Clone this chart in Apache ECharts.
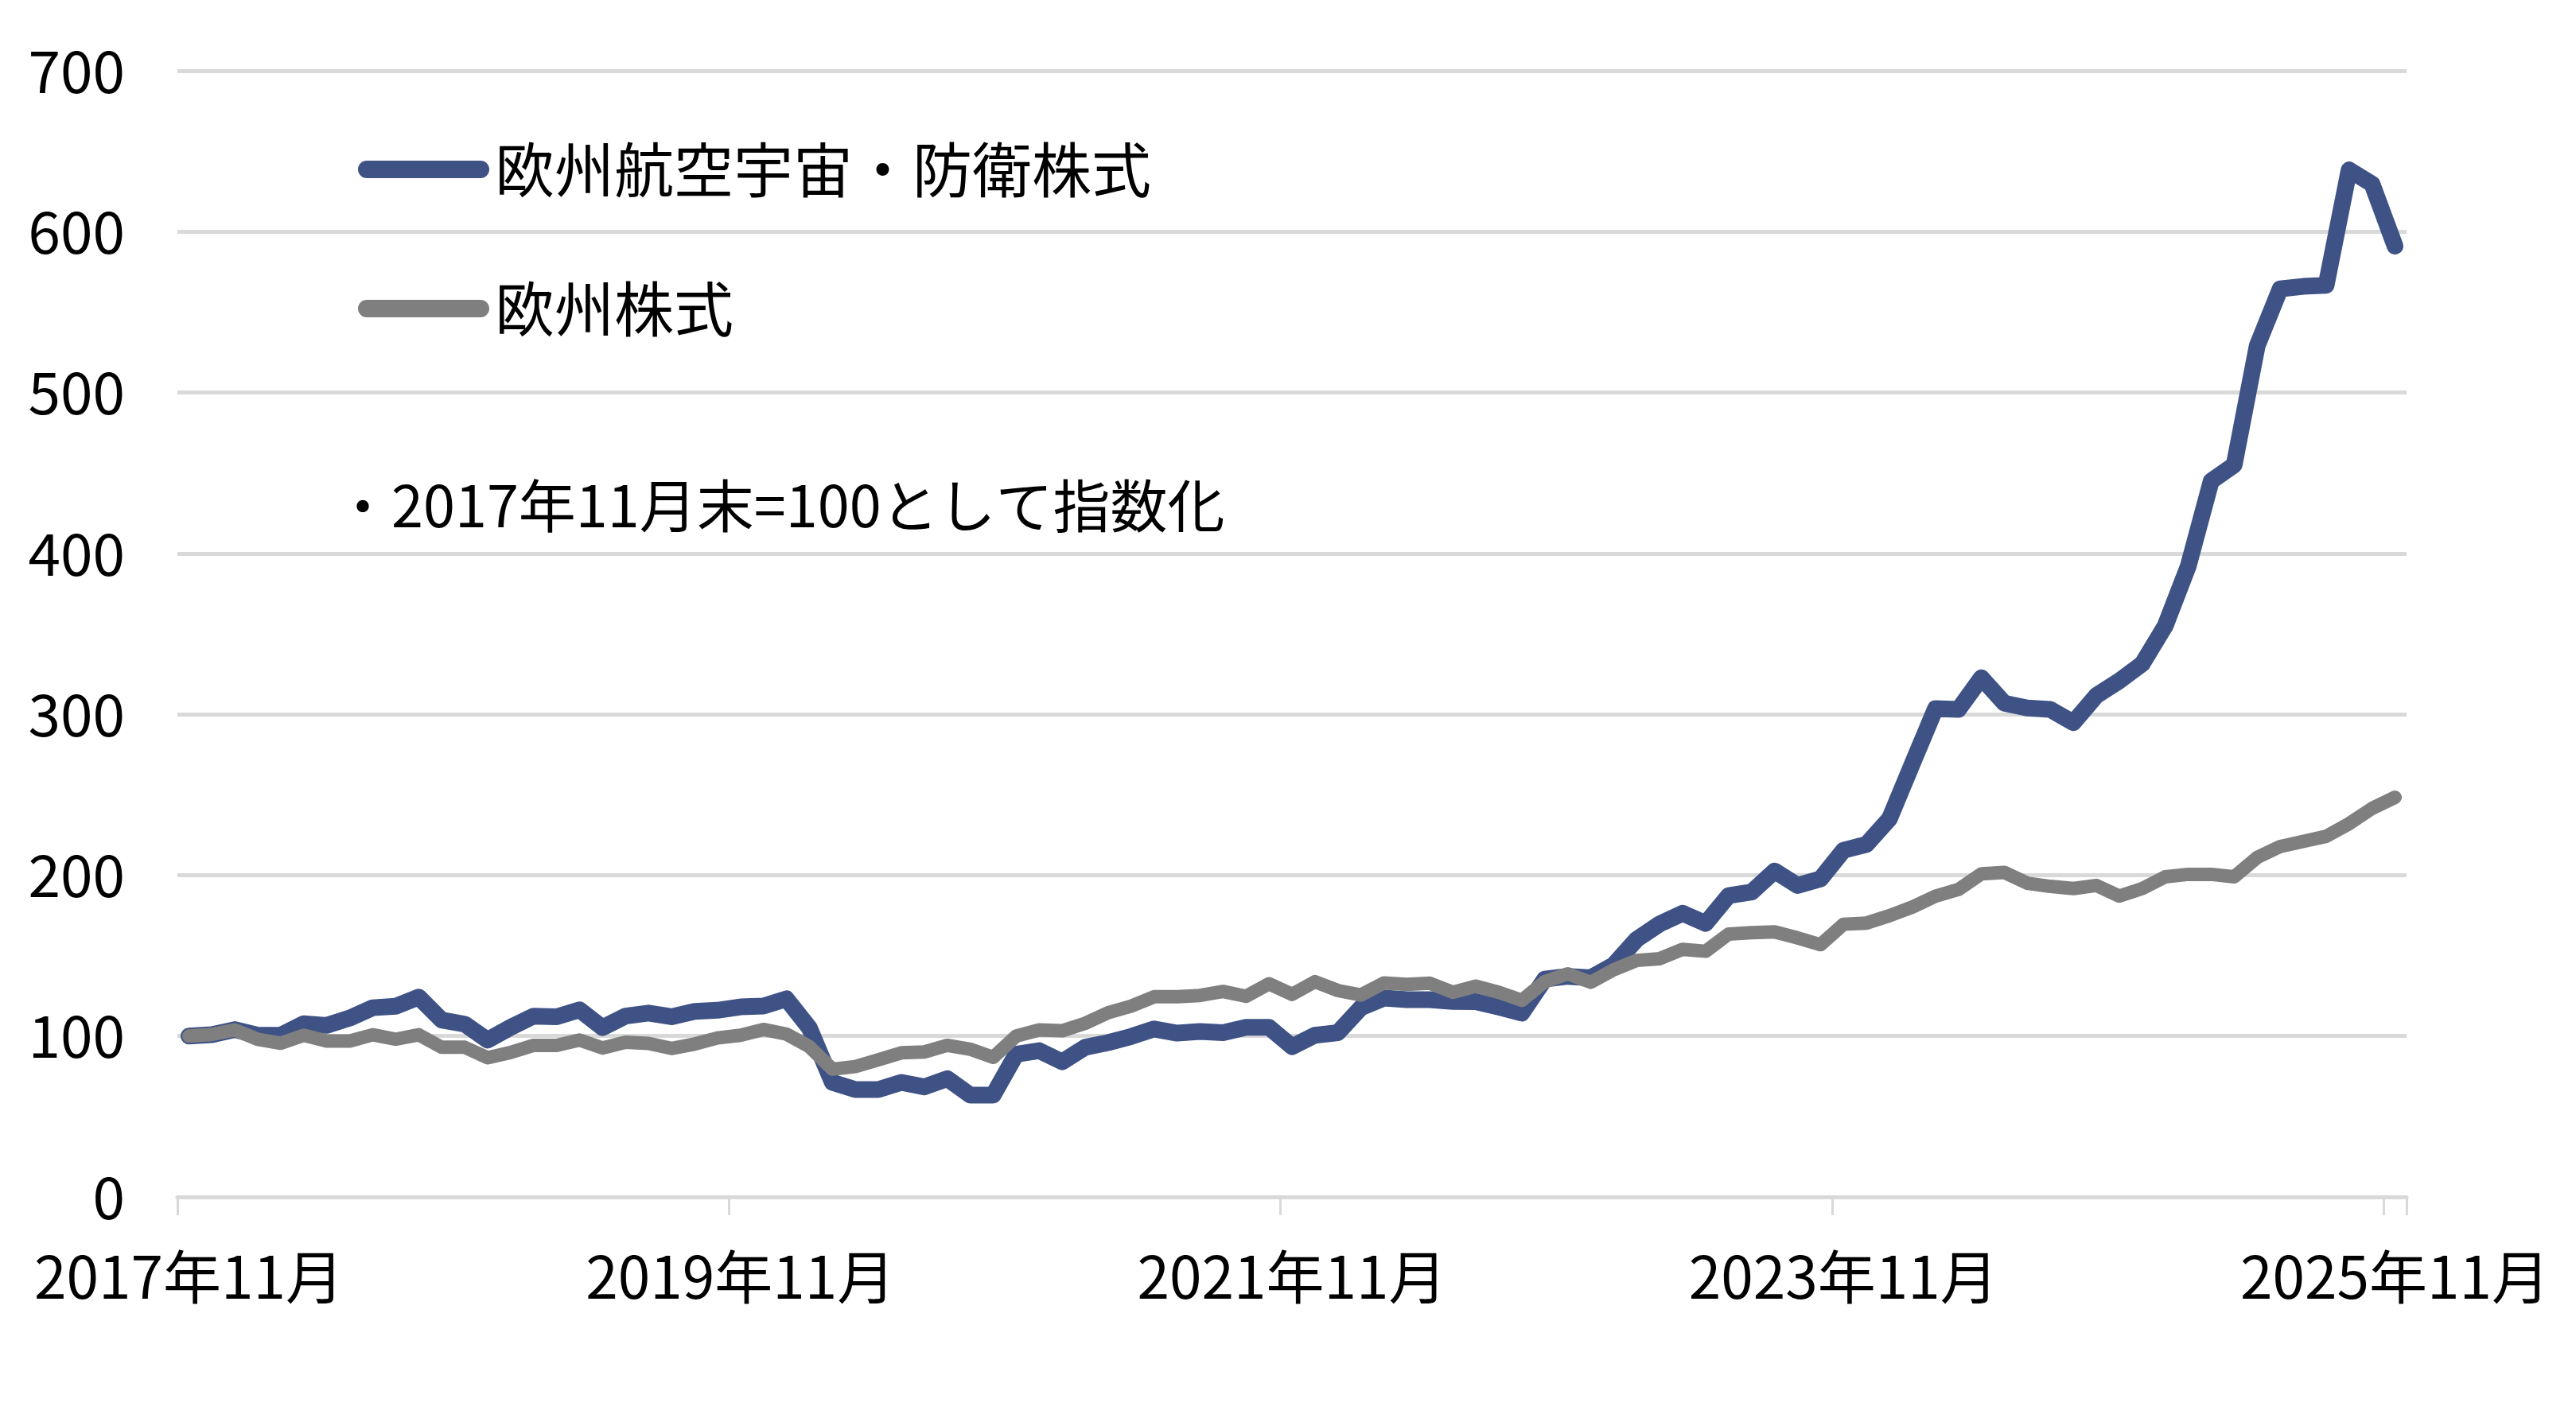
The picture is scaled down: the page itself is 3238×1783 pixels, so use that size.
<!DOCTYPE html>
<html>
<head>
<meta charset="utf-8">
<script src="https://cdn.jsdelivr.net/npm/echarts@6/dist/echarts.min.js"></script>
<style>
html,body{margin:0;padding:0;background:#fff;}
#chart{width:3238px;height:1783px;}
</style>
</head>
<body>
<div id="chart"></div>
<script>
// Monthly categories: 2017年11月 … 2025年11月
const startYear = 2017, startMonth = 11, monthCount = 97;
const categories = [];
for (let k = 0; k < monthCount; k++) {
  const m0 = startMonth - 1 + k;
  categories.push((startYear + Math.floor(m0 / 12)) + '年' + (m0 % 12 + 1) + '月');
}

const seriesNames = ['欧州航空宇宙・防衛株式', '欧州株式'];

const aeroDefense = [100,100.8,104,100.5,100.5,107.7,106.6,111.2,117.6,118.5,
  124.2,109.9,107.4,97.5,105.4,112.4,112,116.3,105.2,112.4,
  114.3,112,115.3,116,118.1,118.6,123.1,105,71.2,66.7,
  66.7,71.2,68.4,73.5,63.3,63.3,88.7,90.9,84,93,
  95.9,99.7,104.4,101.8,102.8,102.1,105.4,105.4,93.4,100.5,
  102.1,117.6,123.6,122.6,122.6,121.5,121.4,118,114.3,135.4,
  137.1,136.2,144.2,160.1,169.7,176.3,170,187.3,189.5,202.6,
  193.6,197.7,215.5,219.1,235.1,269.4,303.5,303,322.7,306.9,
  303.9,303,294.8,311.6,320.8,331.4,355,392,445,455,
  529,564.4,566,566.6,638.4,629.6,591];

const euroEquity = [100,101,103.8,98,95.5,100.5,96.9,96.9,100.8,98,
  100.8,93,93,86.5,89.8,94.2,94.2,97.5,92.6,96.2,
  95.4,92.3,95,98.8,100.5,104.1,101.2,93.4,79.4,81,
  85.2,89.6,90.1,94.2,91.8,86.8,100,103.8,103.3,107.9,
  114.5,118.6,124.4,124.4,125.2,127.7,124.7,132.5,125.9,133.8,
  128.3,125.5,133,132.1,132.8,127.2,131,127.2,122.2,133.8,
  138.7,133.4,141.2,147,148.1,153.9,152.7,163.4,164.2,164.7,
  161,156.8,169.5,170.2,174.8,180.2,186.9,191.1,200.8,201.7,
  195,193,191.7,193.6,187,191.7,199,200.5,200.5,199,
  211,217.8,221,224.1,232,241.5,248.4];

const noteText = '・2017年11月末=100として指数化';
const yMin = 0, yMax = 700, yStep = 100;

const FONT = '"Noto Sans CJK JP", "Noto Sans", sans-serif';
const BLUE = '#3E5286';
const GRAY = '#7F7F7F';
const GRID = '#D9D9D9';

const chart = echarts.init(document.getElementById('chart'), null, {renderer: 'canvas'});
chart.setOption({
  backgroundColor: '#ffffff',
  animation: false,
  textStyle: {fontFamily: FONT},
  grid: {left: 223, right: 213, top: 89, bottom: 278, containLabel: false},
  title: {
    text: noteText,
    left: 420, top: 599, padding: 0,
    textStyle: {fontFamily: FONT, fontSize: 72, fontWeight: 'normal', color: '#000', lineHeight: 74}
  },
  legend: {
    orient: 'vertical',
    left: 450, top: 173, padding: 0,
    itemWidth: 165, itemHeight: 22, itemGap: 95,
    icon: 'path://M11 0H154A11 11 0 0 1 154 22H11A11 11 0 0 1 11 0Z',
    textStyle: {fontFamily: FONT, fontSize: 75, color: '#000', lineHeight: 80, padding: [0, 0, 0, 2]},
    data: seriesNames
  },
  xAxis: {
    type: 'category',
    data: categories,
    boundaryGap: true,
    axisLine: {show: true, lineStyle: {color: GRID, width: 5}},
    axisTick: {show: true, interval: 23, length: 23, lineStyle: {color: GRID, width: 3}},
    axisLabel: {interval: 23, margin: 62, fontFamily: FONT, fontSize: 73, color: '#000', lineHeight: 76},
    splitLine: {show: false}
  },
  yAxis: {
    type: 'value',
    min: yMin, max: yMax, interval: yStep,
    axisLine: {show: false},
    axisTick: {show: false},
    axisLabel: {margin: 66, fontFamily: FONT, fontSize: 73, color: '#000'},
    splitLine: {show: true, lineStyle: {color: GRID, width: 5}}
  },
  series: [
    {
      name: seriesNames[0], type: 'line', data: aeroDefense,
      color: BLUE, showSymbol: false, symbol: 'none', smooth: false,
      lineStyle: {color: BLUE, width: 21, cap: 'round', join: 'round'},
      emphasis: {disabled: true}
    },
    {
      name: seriesNames[1], type: 'line', data: euroEquity,
      color: GRAY, showSymbol: false, symbol: 'none', smooth: false,
      lineStyle: {color: GRAY, width: 17, cap: 'round', join: 'round'},
      emphasis: {disabled: true}
    }
  ]
});
</script>
</body>
</html>
